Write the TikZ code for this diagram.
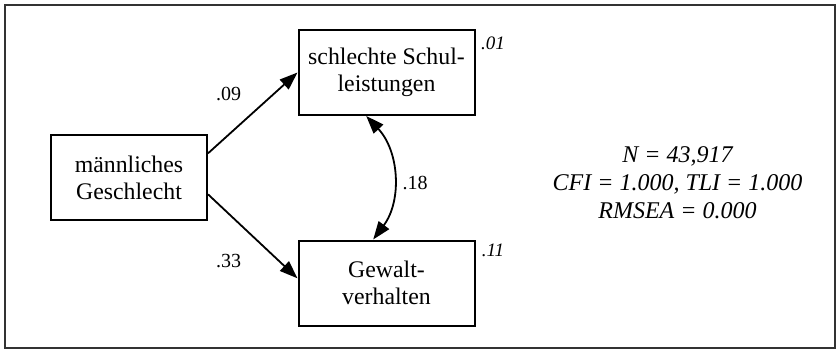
\documentclass[tikz,border=0pt]{standalone}
\usepackage{fontspec}
\setmainfont{Liberation Serif}
\usepackage{tikz}
\usetikzlibrary{arrows.meta,positioning}

\begin{document}
\begin{tikzpicture}[x=0.5pt,y=-0.5pt,>={Triangle[length=9pt,width=6.5pt]},auto]
	\tikzstyle{var}=[rectangle, draw=black, line width=1pt, minimum height=42.5pt, align=center, font=\fontsize{11.9}{13.5}\selectfont]
	\tikzstyle{path}=[->, line width=0.9pt]
	\tikzstyle{coef}=[inner sep=0pt, font=\fontsize{10}{12}\selectfont]
	\tikzstyle{rsq}=[inner sep=0pt, font=\fontsize{9.5}{11}\selectfont\itshape]

	\useasboundingbox (0,0) rectangle (836,349);
	\draw[black!80, line width=1pt] (5,5) rectangle (834.5,347.5);

	% observed variables
	\node [var, minimum width=78pt] (mg) at (129,177.5) {männliches\\Geschlecht};
	\node [var, minimum width=88pt] (sl) [above right=9pt and 44.75pt of mg] {schlechte Schul-\\leistungen};
	\node [var, minimum width=88pt] (gv) [below right=9.25pt and 44.75pt of mg] {Gewalt-\\verhalten};

	% paths
	\draw [path] (mg.17) -- (sl.west);
	\draw [path] (mg.-12) -- (gv.177);
	\draw [<->, line width=0.9pt] (sl.245) to[bend left=40] (gv.107);

	% coefficients
	\node [coef] (c09) at (228.5,93.5) {.09};
	\node [coef] (c33) at (228.5,261.5) {.33};
	\node [coef] (c18) at (415,182.5) {.18};
	\node [rsq] (r01) at (493,43) {.01};
	\node [rsq] (r11) at (493,250) {.11};

	% fit
	\node [align=center, font=\fontsize{12}{14}\selectfont\itshape] (fit) at (677.5,183)
		{N = 43,917\\CFI = 1.000, TLI = 1.000\\RMSEA = 0.000};
\end{tikzpicture}
\end{document}
